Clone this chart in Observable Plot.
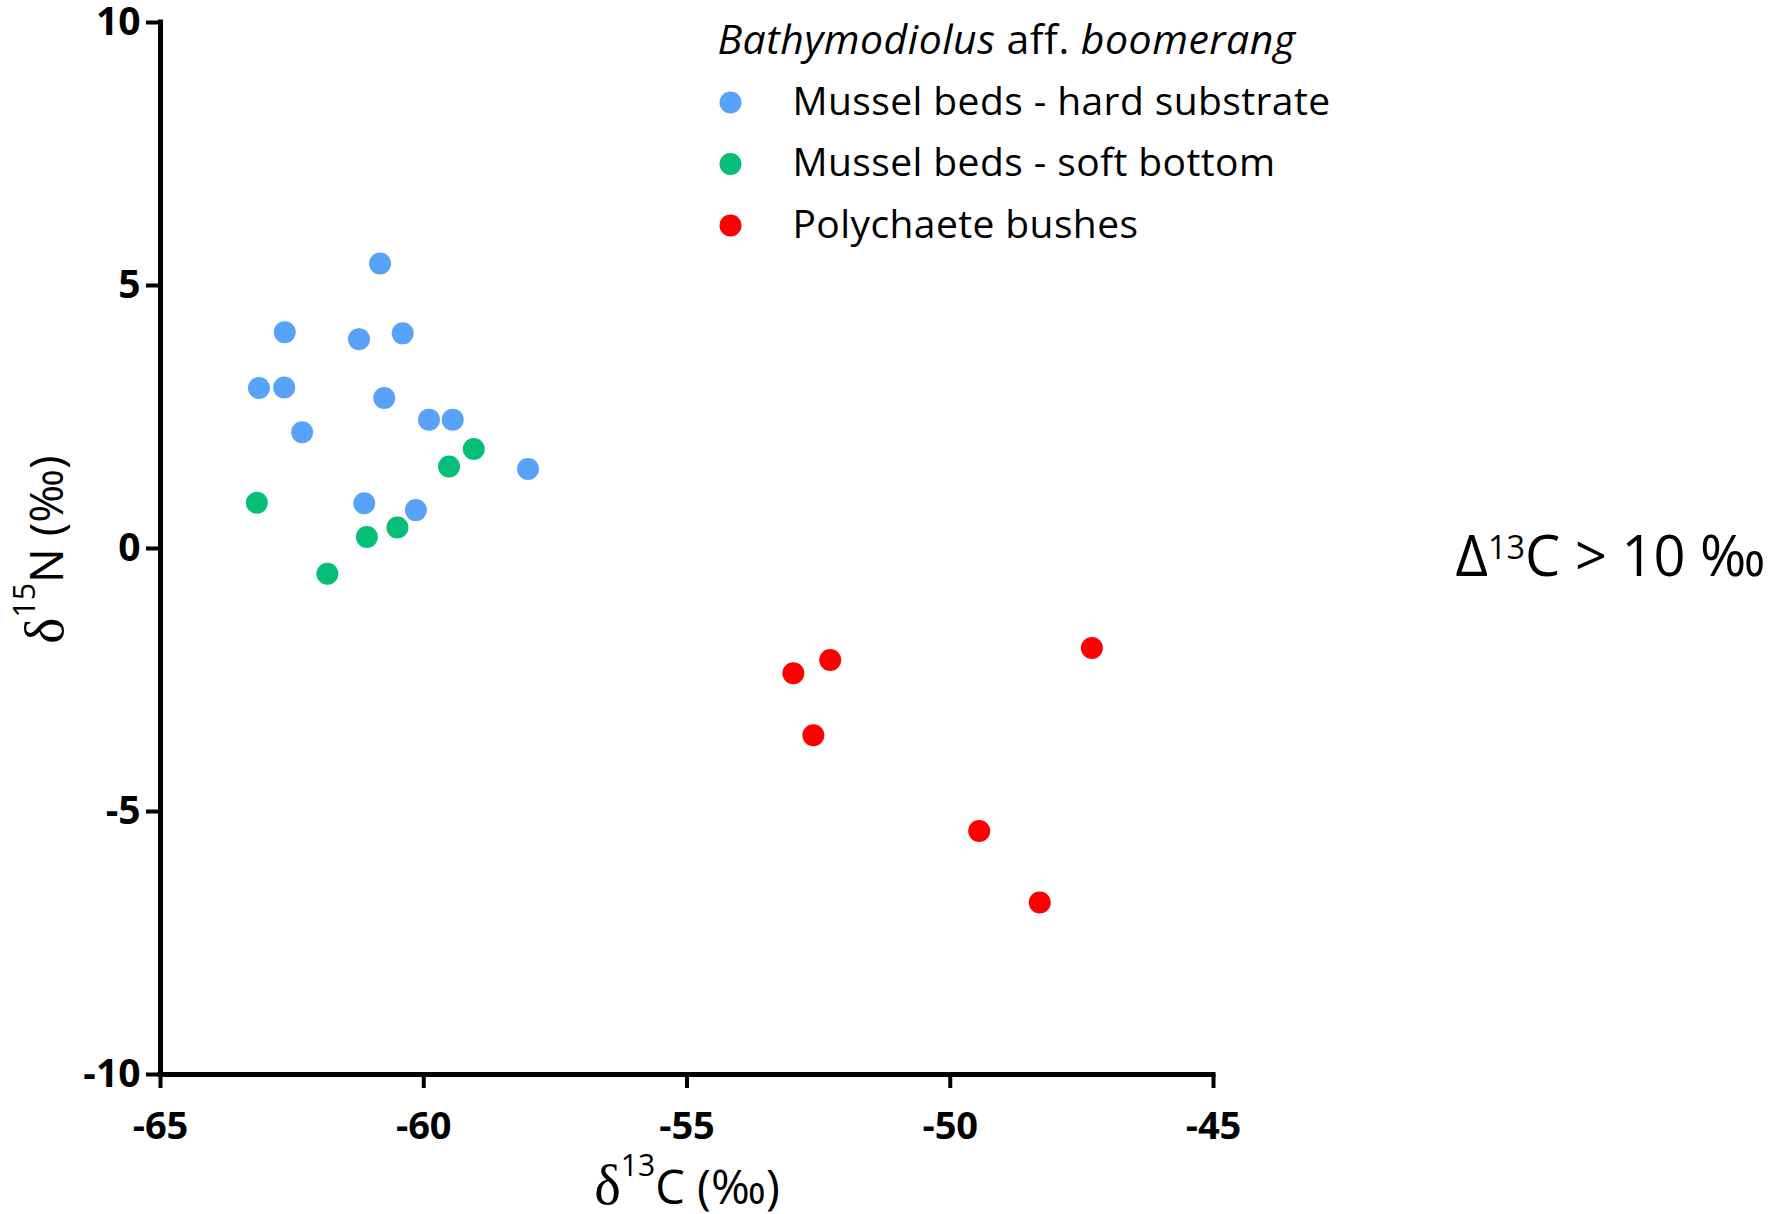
<!DOCTYPE html>
<html>
<head>
<meta charset="utf-8">
<script src="https://cdn.jsdelivr.net/npm/d3@7"></script>
<script src="https://cdn.jsdelivr.net/npm/@observablehq/plot@0.6"></script>
<style>
  html, body { margin: 0; padding: 0; background: #fff; }
  #chart { width: 1791px; height: 1214px; position: relative; }
</style>
</head>
<body>
<div id="chart"></div>
<script>
// ---- data ----
const groups = ["Mussel beds - hard substrate", "Mussel beds - soft bottom", "Polychaete bushes"];
const groupColors = ["#58A2FA", "#06BE78", "#FF0000"];

const hardC = [-60.83, -62.64, -61.23, -60.40, -63.13, -62.65, -60.75, -62.31, -59.90, -59.45, -58.02, -61.13, -60.15];
const hardN = [5.42, 4.11, 3.98, 4.09, 3.05, 3.06, 2.86, 2.21, 2.45, 2.45, 1.51, 0.86, 0.73];

const softC = [-63.17, -59.52, -59.05, -61.08, -60.50, -61.83];
const softN = [0.87, 1.56, 1.89, 0.22, 0.40, -0.48];

const polyC = [-52.98, -52.28, -52.60, -47.31, -49.45, -48.30];
const polyN = [-2.37, -2.12, -3.55, -1.89, -5.37, -6.73];

const xTicks = [-65, -60, -55, -50, -45];
const yTicks = [-10, -5, 0, 5, 10];

const legendTitle = "Bathymodiolus aff. boomerang";
const xLabel = "δ13C (‰)";
const yLabel = "δ15N (‰)";
const annotation = "Δ13C > 10 ‰";

// ---- table built from arrays ----
const points = [
  ...hardC.map((c, i) => ({c, n: hardN[i], g: groups[0]})),
  ...softC.map((c, i) => ({c, n: softN[i], g: groups[1]})),
  ...polyC.map((c, i) => ({c, n: polyN[i], g: groups[2]}))
];

const FONT = "'Open Sans', sans-serif";

const legendMarks = groups.flatMap((g, i) => [
  Plot.dot([g], {frameAnchor: "top-left", fill: d => d, r: 11, dx: 570, dy: 80 + i * 61.5}),
  Plot.text([g], {frameAnchor: "top-left", text: d => d, textAnchor: "start", lineAnchor: "middle",
    dx: 632, dy: 80 + i * 61.5, fontSize: 39, fill: "#000", ariaDescription: "legend-item"})
]);

const chart = Plot.plot({
  width: 1791,
  height: 1214,
  marginLeft: 160,
  marginRight: 578,
  marginTop: 22,
  marginBottom: 140,
  style: {fontFamily: FONT, background: "#fff", color: "#000", overflow: "visible"},
  x: {domain: [-65, -45]},
  y: {domain: [-10, 10]},
  color: {domain: groups, range: groupColors},
  marks: [
    Plot.axisX({ticks: xTicks, tickFormat: d => String(d), tickSize: 14, tickPadding: 24,
      strokeWidth: 4, fontSize: 38, fontWeight: "bold", label: null}),
    Plot.axisY({ticks: yTicks, tickFormat: d => String(d), tickSize: 14, tickPadding: 6,
      strokeWidth: 4, fontSize: 39, fontWeight: "bold", label: null}),
    Plot.ruleX([-65], {strokeWidth: 5, strokeLinecap: "square"}),
    Plot.ruleY([-10], {strokeWidth: 5, strokeLinecap: "square"}),
    Plot.dot(points, {x: "c", y: "n", fill: "g", r: 11}),
    Plot.text([xLabel], {text: d => d, frameAnchor: "bottom", textAnchor: "middle", dy: 114, fontSize: 47, lineAnchor: "middle", ariaDescription: "xlabel"}),
    Plot.text([yLabel], {text: d => d, frameAnchor: "left", textAnchor: "middle", rotate: -90, dx: -112, dy: 1, fontSize: 46, lineAnchor: "middle", ariaDescription: "ylabel"}),
    Plot.text([annotation], {text: d => d, frameAnchor: "right", textAnchor: "start", dx: 242, dy: 10, fontSize: 56, lineAnchor: "middle", ariaDescription: "annot"}),
    Plot.text([legendTitle], {text: d => d, frameAnchor: "top-left", textAnchor: "start", lineAnchor: "middle", dx: 557, dy: 18.5, fontSize: 41, ariaDescription: "ltitle"}),
    ...legendMarks
  ]
});

document.getElementById("chart").appendChild(chart);

// ---- rich text (superscripts / italics) ----
function findText(label) {
  return d3.select(chart).select(`g[aria-description="${label}"] text`);
}
function rich(label, parts, fs) {
  const t = findText(label);
  if (t.empty()) return;
  t.text(null);
  let shift = 0;
  parts.forEach(p => {
    const ts = t.append("tspan").text(p.t);
    if (p.sup) {
      ts.attr("font-size", p.size * fs + "px").attr("dy", -p.rise * fs - shift);
      shift = -p.rise * fs;
    } else {
      if (shift !== 0) { ts.attr("dy", -shift); shift = 0; }
    }
    if (p.italic) ts.attr("font-style", "italic");
    if (p.serif) ts.attr("font-family", "'Liberation Serif', serif").attr("font-size", (p.scale || 1) * fs + "px");
  });
}
rich("xlabel", [{t: "δ", serif: true, scale: 1.2}, {t: "13", sup: true, size: 0.64, rise: 0.58}, {t: "C (‰)"}], 47);
rich("ylabel", [{t: "δ", serif: true, scale: 1.2}, {t: "15", sup: true, size: 0.66, rise: 0.62}, {t: "N (‰)"}], 46);
rich("annot", [{t: "Δ"}, {t: "13", sup: true, size: 0.58, rise: 0.32}, {t: "C > 10 ‰"}], 56);
rich("ltitle", [{t: "Bathymodiolus", italic: true}, {t: " aff. "}, {t: "boomerang", italic: true}], 41);
d3.select(chart).selectAll('g[aria-description="legend-item"] text').attr("letter-spacing", "0.4px");
d3.select(chart).selectAll('g[aria-description="ltitle"] text').attr("letter-spacing", "0.5px");
</script>
</body>
</html>
